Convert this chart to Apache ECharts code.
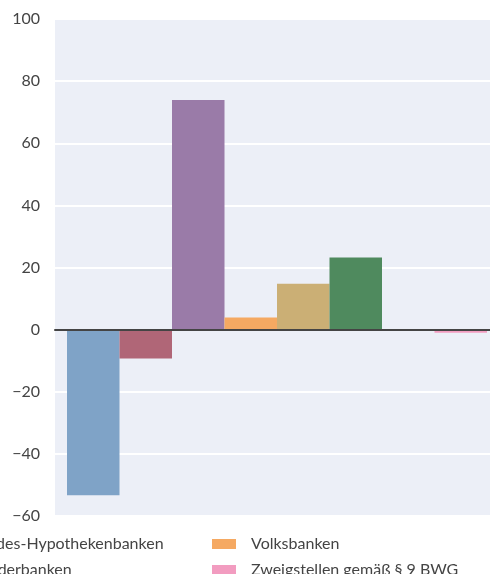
<!DOCTYPE html>
<html>
<head>
<meta charset="utf-8">
<script src="https://cdn.jsdelivr.net/npm/echarts@6/dist/echarts.min.js"></script>
<style>html,body{margin:0;padding:0;background:#fff;}#c{width:490px;height:574px;}</style>
</head>
<body>
<div id="c"></div>
<script>
var categories = ['Veränderung'];
var seriesNames = ['Aktienbanken', 'Sparkassen', 'Landes-Hypothekenbanken', 'Volksbanken',
  'Raiffeisenbanken', 'Bausparkassen', 'Sonderbanken', 'Zweigstellen gemäß § 9 BWG'];
var seriesValues = [-53.3, -9.3, 73.9, 3.9, 14.8, 23.2, -0.3, -1.0];
var seriesColors = ['#7FA3C7', '#B06677', '#9A7BA8', '#F5A962', '#CBAF75', '#4F8A5E', '#8FA6B0', '#F29CC0'];
var yTicks = [-60, -40, -20, 0, 20, 40, 60, 80, 100];

var FONT = 'Lato';
var chart = echarts.init(document.getElementById('c'), null, {renderer: 'canvas'});
// invisible spacer so the bar group sits like in the (right-cropped) original
var series = [{name: '_spacer', type: 'bar', data: ['-'], barWidth: 9, barGap: '0%',
  itemStyle: {color: 'rgba(0,0,0,0)'}, silent: true}];
seriesNames.forEach(function (n, i) {
  series.push({
    name: n, type: 'bar', data: [seriesValues[i]],
    barWidth: 52.5, barGap: '0%',
    itemStyle: {color: seriesColors[i]}
  });
});
chart.setOption({
  animation: false,
  textStyle: {fontFamily: FONT},
  grid: {left: 55, top: 19, right: 0, bottom: 58, show: true,
    backgroundColor: '#ECEFF7', borderWidth: 0, containLabel: false},
  legend: {
    data: seriesNames, orient: 'horizontal',
    left: 212 - 3 * 280, top: 536, width: 1150, padding: 0,
    itemWidth: 24, itemHeight: 10, itemGap: 10,
    icon: 'rect',
    textStyle: {fontFamily: FONT, fontSize: 16, color: '#444', width: 231, overflow: 'none',
      lineHeight: 10, padding: [0, 0, 0, 10]}
  },
  xAxis: {
    type: 'category', data: categories, z: 5,
    axisLine: {show: true, onZero: true, lineStyle: {color: '#444', width: 2}},
    axisTick: {show: false}, axisLabel: {show: false}, splitLine: {show: false}
  },
  yAxis: {
    type: 'value', min: yTicks[0], max: yTicks[yTicks.length - 1], interval: 20,
    axisLine: {show: false}, axisTick: {show: false},
    axisLabel: {fontFamily: FONT, fontSize: 16, color: '#444', margin: 15,
      formatter: function (v) { return String(v).replace('-', '\u2212'); }},
    splitLine: {show: true, lineStyle: {color: '#ffffff', width: 2}}
  },
  series: series
});
</script>
</body>
</html>
